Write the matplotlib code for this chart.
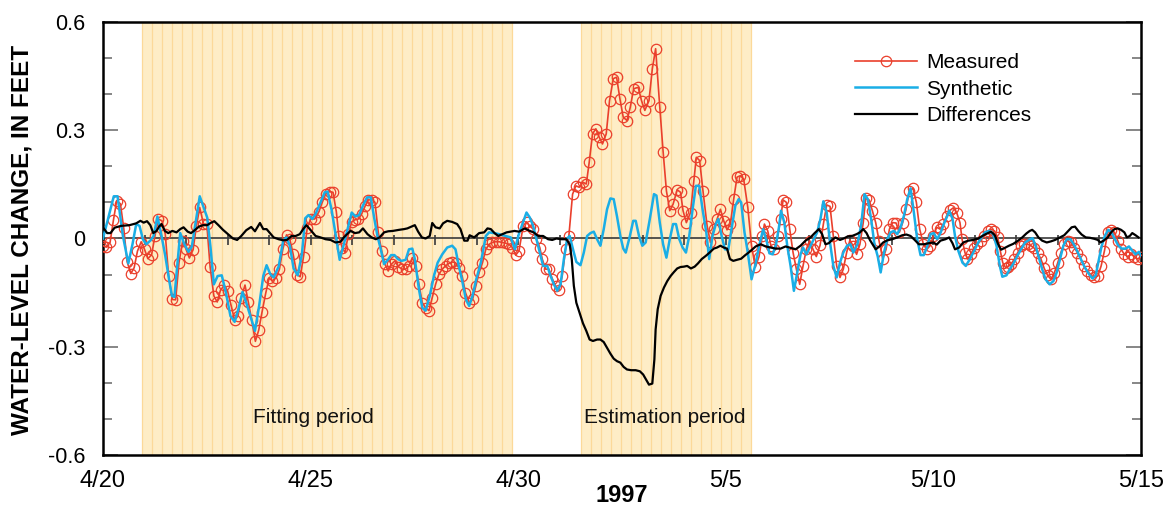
import matplotlib
matplotlib.use('Agg')
import matplotlib.pyplot as plt
import numpy as np

plt.rcParams['font.family'] = ['Liberation Sans', 'DejaVu Sans']

# ---------------- data (days after 4/20/1997, feet) ----------------
meas_t = [0.00, 0.08, 0.17, 0.25, 0.33, 0.42, 0.50, 0.58, 0.67, 0.75, 0.83, 0.92,
          1.00, 1.08, 1.17, 1.25, 1.33, 1.42, 1.50, 1.58, 1.67, 1.75, 1.83, 1.92,
          2.00, 2.08, 2.17, 2.25, 2.33, 2.42, 2.50, 2.58, 2.67, 2.75, 2.83, 2.92,
          3.00, 3.08, 3.17, 3.25, 3.33, 3.42, 3.50, 3.58, 3.67, 3.75, 3.83, 3.92,
          4.00, 4.08, 4.17, 4.25, 4.33, 4.42, 4.50, 4.58, 4.67, 4.75, 4.83, 4.92,
          5.00, 5.10, 5.20, 5.28, 5.36, 5.46, 5.54, 5.62, 5.68, 5.76, 5.83, 5.91,
          5.99, 6.07, 6.15, 6.23, 6.31, 6.39, 6.49, 6.55, 6.63, 6.71, 6.79, 6.87,
          6.95, 7.03, 7.11, 7.21, 7.29, 7.37, 7.45, 7.53, 7.61, 7.69, 7.77, 7.85,
          7.93, 8.01, 8.09, 8.17, 8.25, 8.33, 8.41, 8.49, 8.57, 8.65, 8.73, 8.82,
          8.90, 8.98, 9.06, 9.14, 9.22, 9.30, 9.38, 9.46, 9.54, 9.62, 9.70, 9.78,
          9.86, 9.94, 10.02, 10.12, 10.20, 10.28, 10.36, 10.44, 10.52, 10.58, 10.66, 10.74,
          10.82, 10.90, 10.98, 11.06, 11.14, 11.22, 11.31, 11.39, 11.47, 11.56, 11.64, 11.71,
          11.79, 11.87, 11.95, 12.03, 12.12, 12.20, 12.29, 12.37, 12.45, 12.53, 12.62, 12.70,
          12.78, 12.89, 12.97, 13.05, 13.15, 13.23, 13.31, 13.41, 13.49, 13.57, 13.65, 13.73,
          13.83, 13.91, 13.97, 14.05, 14.15, 14.23, 14.29, 14.37, 14.45, 14.55, 14.63, 14.71,
          14.79, 14.87, 14.95, 15.03, 15.11, 15.19, 15.27, 15.35, 15.43, 15.53, 15.62, 15.71,
          15.80, 15.88, 15.93, 16.01, 16.09, 16.17, 16.25, 16.32, 16.38, 16.46, 16.54, 16.62,
          16.70, 16.78, 16.86, 16.94, 17.02, 17.10, 17.18, 17.27, 17.35, 17.43, 17.51, 17.59,
          17.67, 17.75, 17.83, 17.91, 17.99, 18.07, 18.15, 18.23, 18.31, 18.37, 18.45, 18.53,
          18.61, 18.69, 18.78, 18.86, 18.94, 19.02, 19.10, 19.18, 19.26, 19.34, 19.42, 19.51,
          19.59, 19.67, 19.76, 19.84, 19.92, 20.00, 20.08, 20.16, 20.24, 20.32, 20.40, 20.48,
          20.56, 20.64, 20.69, 20.76, 20.82, 20.90, 20.98, 21.06, 21.14, 21.22, 21.31, 21.39,
          21.47, 21.55, 21.61, 21.67, 21.74, 21.80, 21.87, 21.95, 22.03, 22.11, 22.19, 22.27,
          22.35, 22.43, 22.51, 22.59, 22.67, 22.75, 22.83, 22.91, 22.99, 23.07, 23.15, 23.23,
          23.31, 23.39, 23.47, 23.55, 23.63, 23.71, 23.80, 23.88, 23.96, 24.04, 24.12, 24.20,
          24.28, 24.36, 24.44, 24.52, 24.60, 24.68, 24.76, 24.84, 24.92, 25.00]
meas_v = [-0.020, -0.024, -0.011, 0.050, 0.105, 0.096, 0.028, -0.064, -0.097, -0.081, -0.035, -0.009,
          -0.030, -0.056, -0.045, 0.006, 0.054, 0.049, 0.012, -0.103, -0.169, -0.170, -0.067, -0.006,
          -0.030, -0.054, -0.031, 0.035, 0.086, 0.040, 0.040, -0.079, -0.159, -0.176, -0.143, -0.130,
          -0.145, -0.183, -0.226, -0.215, -0.164, -0.129, -0.176, -0.225, -0.285, -0.254, -0.204, -0.151,
          -0.110, -0.117, -0.109, -0.085, -0.030, 0.010, -0.002, -0.044, -0.100, -0.106, -0.050, 0.030,
          0.054, 0.054, 0.074, 0.100, 0.123, 0.130, 0.128, 0.074, 0.007, -0.025, -0.039, 0.012,
          0.046, 0.052, 0.054, 0.068, 0.089, 0.107, 0.107, 0.100, 0.017, -0.034, -0.071, -0.090,
          -0.071, -0.062, -0.078, -0.085, -0.085, -0.076, -0.053, -0.076, -0.127, -0.178, -0.192, -0.200,
          -0.164, -0.127, -0.099, -0.085, -0.076, -0.069, -0.065, -0.067, -0.081, -0.104, -0.150, -0.178,
          -0.169, -0.131, -0.094, -0.067, -0.030, -0.016, -0.011, -0.009, -0.009, -0.011, -0.013, -0.016,
          -0.025, -0.046, -0.034, 0.035, 0.046, 0.035, 0.026, -0.002, -0.025, -0.057, -0.085, -0.085,
          -0.111, -0.131, -0.143, -0.104, -0.030, 0.007, 0.123, 0.146, 0.142, 0.156, 0.151, 0.211,
          0.290, 0.304, 0.281, 0.262, 0.290, 0.382, 0.443, 0.447, 0.387, 0.336, 0.327, 0.364,
          0.415, 0.419, 0.382, 0.355, 0.382, 0.470, 0.526, 0.364, 0.241, 0.132, 0.077, 0.095,
          0.135, 0.128, 0.077, 0.044, 0.072, 0.160, 0.225, 0.216, 0.132, 0.035, -0.011, 0.026,
          0.054, 0.081, 0.049, 0.024, 0.040, 0.109, 0.170, 0.174, 0.165, 0.086, -0.020, -0.080,
          -0.050, 0.007, 0.040, 0.021, -0.022, -0.028, 0.007, 0.054, 0.107, 0.100, 0.026, -0.039,
          -0.085, -0.127, -0.076, -0.030, -0.006, -0.030, -0.050, -0.019, 0.040, 0.093, 0.089, 0.007,
          -0.076, -0.108, -0.085, -0.039, -0.004, -0.022, -0.044, -0.016, 0.044, 0.111, 0.107, 0.077,
          0.044, -0.006, -0.057, -0.030, 0.026, 0.044, 0.043, 0.017, 0.044, 0.081, 0.132, 0.139,
          0.100, 0.026, -0.016, -0.030, -0.020, 0.007, 0.031, 0.026, 0.040, 0.063, 0.078, 0.085,
          0.072, 0.044, -0.002, -0.039, -0.057, -0.044, -0.025, -0.016, -0.006, 0.007, 0.021, 0.026,
          0.021, 0.003, -0.034, -0.067, -0.081, -0.078, -0.071, -0.057, -0.039, -0.022, -0.016, -0.016,
          -0.020, -0.027, -0.039, -0.057, -0.083, -0.102, -0.113, -0.096, -0.069, -0.039, -0.016, -0.006,
          -0.011, -0.025, -0.039, -0.057, -0.076, -0.090, -0.102, -0.108, -0.104, -0.076, -0.034, 0.017,
          0.024, 0.017, -0.006, -0.030, -0.044, -0.050, -0.044, -0.050, -0.057, -0.050]

syn_t = [0.00, 0.26, 0.35, 0.48, 0.61, 0.71, 0.80, 0.88, 0.96, 1.04, 1.14, 1.22, 1.31, 1.41,
         1.50, 1.59, 1.66, 1.72, 1.78, 1.86, 1.96, 2.06, 2.14, 2.23, 2.33, 2.41, 2.51, 2.59,
         2.67, 2.76, 2.86, 2.96, 3.07, 3.17, 3.26, 3.36, 3.45, 3.55, 3.66, 3.76, 3.86, 3.94,
         4.03, 4.11, 4.23, 4.34, 4.42, 4.50, 4.59, 4.69, 4.79, 4.87, 4.95, 5.04, 5.12, 5.24,
         5.34, 5.41, 5.51, 5.60, 5.70, 5.80, 5.91, 5.99, 6.08, 6.17, 6.26, 6.36, 6.45, 6.53,
         6.61, 6.69, 6.77, 6.86, 6.94, 7.02, 7.10, 7.19, 7.29, 7.37, 7.45, 7.51, 7.61, 7.69,
         7.77, 7.87, 7.97, 8.06, 8.17, 8.29, 8.41, 8.49, 8.57, 8.66, 8.74, 8.82, 8.90, 8.99,
         9.10, 9.22, 9.30, 9.42, 9.54, 9.70, 9.82, 9.92, 10.01, 10.12, 10.20, 10.28, 10.36, 10.44,
         10.52, 10.60, 10.70, 10.78, 10.86, 10.94, 11.02, 11.10, 11.18, 11.24, 11.32, 11.40, 11.50, 11.58,
         11.66, 11.74, 11.82, 11.90, 11.98, 12.06, 12.14, 12.22, 12.30, 12.38, 12.46, 12.53, 12.59, 12.69,
         12.77, 12.83, 12.91, 12.99, 13.07, 13.17, 13.27, 13.33, 13.41, 13.49, 13.57, 13.65, 13.73, 13.80,
         13.88, 13.96, 14.04, 14.12, 14.20, 14.28, 14.36, 14.44, 14.53, 14.60, 14.68, 14.76, 14.82, 14.90,
         14.98, 15.06, 15.15, 15.23, 15.31, 15.37, 15.45, 15.53, 15.62, 15.72, 15.80, 15.90, 15.98, 16.05,
         16.13, 16.21, 16.28, 16.33, 16.41, 16.48, 16.56, 16.64, 16.72, 16.80, 16.86, 16.94, 17.02, 17.12,
         17.20, 17.28, 17.35, 17.43, 17.51, 17.59, 17.67, 17.75, 17.83, 17.92, 18.00, 18.07, 18.17, 18.26,
         18.34, 18.42, 18.50, 18.58, 18.66, 18.73, 18.81, 18.89, 18.97, 19.05, 19.13, 19.21, 19.29, 19.37,
         19.45, 19.53, 19.61, 19.69, 19.77, 19.85, 19.93, 20.01, 20.09, 20.17, 20.25, 20.33, 20.38, 20.46,
         20.52, 20.60, 20.70, 20.78, 20.88, 21.00, 21.08, 21.16, 21.24, 21.34, 21.44, 21.52, 21.60, 21.66,
         21.76, 21.84, 21.92, 22.00, 22.11, 22.21, 22.33, 22.39, 22.46, 22.54, 22.62, 22.70, 22.80, 22.89,
         22.97, 23.05, 23.13, 23.21, 23.30, 23.38, 23.46, 23.55, 23.65, 23.75, 23.83, 23.91, 23.97, 24.05,
         24.13, 24.21, 24.29, 24.37, 24.45, 24.53, 24.63, 24.71, 24.79, 24.87, 24.95, 25.00]
syn_v = [0.000, 0.117, 0.117, 0.007, -0.069, -0.016, 0.040, 0.035, -0.002, -0.016, -0.006, 0.007, 0.061, 0.007,
         -0.048, -0.113, -0.159, -0.162, -0.085, 0.015, -0.016, -0.037, -0.022, 0.044, 0.117, 0.091, 0.058, -0.025,
         -0.127, -0.104, -0.102, -0.150, -0.215, -0.231, -0.196, -0.148, -0.178, -0.215, -0.256, -0.187, -0.104, -0.074,
         -0.099, -0.108, -0.078, -0.006, 0.003, -0.020, -0.083, -0.102, -0.044, 0.056, 0.065, 0.054, 0.068, 0.100,
         0.128, 0.130, 0.077, 0.012, -0.059, -0.016, 0.035, 0.072, 0.061, 0.065, 0.091, 0.114, 0.114, 0.058,
         0.007, -0.030, -0.071, -0.059, -0.046, -0.046, -0.057, -0.062, -0.059, -0.030, -0.028, -0.057, -0.141, -0.192,
         -0.200, -0.159, -0.104, -0.067, -0.044, -0.025, -0.020, -0.030, -0.076, -0.122, -0.169, -0.187, -0.159, -0.113,
         -0.067, 0.007, 0.017, 0.015, 0.012, 0.007, 0.003, -0.030, 0.010, 0.046, 0.072, 0.058, 0.035, -0.002,
         -0.039, -0.076, -0.076, -0.104, -0.127, -0.145, -0.127, -0.057, 0.000, 0.007, -0.030, -0.065, -0.074, -0.039,
         0.007, 0.015, 0.019, -0.002, -0.020, 0.026, 0.081, 0.111, 0.109, 0.061, 0.007, -0.028, -0.039, 0.007,
         0.049, 0.049, 0.007, -0.020, -0.011, 0.054, 0.123, 0.119, 0.044, -0.016, -0.053, -0.002, 0.040, 0.040,
         -0.002, -0.025, -0.039, 0.007, 0.081, 0.146, 0.146, 0.081, 0.017, -0.057, 0.007, 0.040, 0.054, 0.007,
         -0.030, -0.031, 0.035, 0.091, 0.109, 0.100, 0.017, -0.039, -0.113, -0.069, -0.022, 0.026, -0.006, -0.041,
         -0.044, -0.016, 0.031, 0.077, 0.044, -0.020, -0.076, -0.145, -0.094, -0.044, -0.025, -0.044, -0.025, -0.002,
         0.017, 0.054, 0.103, 0.072, -0.011, -0.076, -0.108, -0.067, -0.039, -0.020, -0.016, -0.039, -0.016, 0.037,
         0.123, 0.109, 0.054, -0.016, -0.050, -0.094, -0.039, -0.002, 0.017, 0.021, 0.012, 0.031, 0.063, 0.109,
         0.139, 0.072, -0.002, -0.046, -0.046, -0.022, 0.012, 0.015, -0.002, 0.015, 0.040, 0.061, 0.077, 0.055,
         0.007, -0.034, -0.067, -0.076, -0.057, -0.030, -0.011, 0.003, 0.017, 0.021, 0.012, -0.020, -0.076, -0.106,
         -0.102, -0.085, -0.071, -0.053, -0.030, -0.011, -0.002, 0.001, -0.020, -0.053, -0.085, -0.113, -0.127, -0.118,
         -0.094, -0.057, -0.020, -0.002, -0.002, -0.016, -0.034, -0.057, -0.081, -0.099, -0.111, -0.102, -0.067, -0.022,
         0.007, 0.024, 0.017, -0.002, -0.019, -0.028, -0.028, -0.022, -0.034, -0.044, -0.037, -0.048]

diff_t = [0.00, 0.10, 0.18, 0.28, 0.44, 0.64, 0.80, 0.90, 0.98, 1.06, 1.14, 1.21, 1.29, 1.35, 1.41,
          1.49, 1.57, 1.67, 1.77, 1.86, 1.94, 2.04, 2.12, 2.22, 2.31, 2.41, 2.51, 2.59, 2.68, 2.78,
          2.89, 3.01, 3.13, 3.23, 3.33, 3.45, 3.57, 3.66, 3.78, 3.86, 3.94, 4.02, 4.11, 4.23, 4.34,
          4.43, 4.54, 4.64, 4.74, 4.82, 4.90, 4.98, 5.12, 5.24, 5.36, 5.48, 5.60, 5.72, 5.80, 5.88,
          5.96, 6.07, 6.17, 6.26, 6.37, 6.47, 6.57, 6.66, 6.77, 6.87, 6.98, 7.13, 7.25, 7.33, 7.43,
          7.51, 7.59, 7.68, 7.77, 7.87, 7.93, 8.01, 8.11, 8.19, 8.29, 8.41, 8.53, 8.61, 8.70, 8.78,
          8.83, 8.94, 9.06, 9.18, 9.26, 9.34, 9.43, 9.52, 9.62, 9.72, 9.81, 9.91, 10.02, 10.16, 10.26,
          10.37, 10.48, 10.60, 10.72, 10.82, 10.92, 11.04, 11.16, 11.24, 11.29, 11.34, 11.40, 11.48, 11.56,
          11.64, 11.72, 11.80, 11.90, 11.98, 12.06, 12.14, 12.22, 12.30, 12.38, 12.46, 12.54, 12.62, 12.72,
          12.83, 12.93, 13.01, 13.09, 13.15, 13.23, 13.28, 13.31, 13.36, 13.43, 13.51, 13.59, 13.67, 13.75,
          13.83, 13.91, 13.99, 14.07, 14.16, 14.25, 14.33, 14.42, 14.52, 14.61, 14.71, 14.79, 14.87, 14.95,
          15.03, 15.10, 15.18, 15.27, 15.37, 15.47, 15.55, 15.63, 15.72, 15.84, 15.96, 16.08, 16.20, 16.32,
          16.44, 16.56, 16.68, 16.80, 16.92, 17.04, 17.14, 17.24, 17.32, 17.40, 17.48, 17.56, 17.64, 17.75,
          17.84, 17.94, 18.04, 18.15, 18.23, 18.31, 18.39, 18.47, 18.55, 18.61, 18.70, 18.79, 18.89, 19.01,
          19.13, 19.25, 19.35, 19.45, 19.55, 19.65, 19.77, 19.89, 20.00, 20.08, 20.17, 20.29, 20.38, 20.46,
          20.52, 20.62, 20.72, 20.84, 20.96, 21.08, 21.18, 21.26, 21.39, 21.48, 21.56, 21.63, 21.72, 21.82,
          21.92, 22.04, 22.14, 22.24, 22.32, 22.38, 22.45, 22.53, 22.62, 22.73, 22.83, 22.93, 23.05, 23.15,
          23.25, 23.33, 23.41, 23.49, 23.57, 23.67, 23.77, 23.88, 23.96, 24.02, 24.10, 24.20, 24.28, 24.36,
          24.44, 24.52, 24.60, 24.66, 24.73, 24.79, 24.87, 24.94]
diff_v = [0.031, 0.015, 0.015, 0.030, 0.035, 0.037, 0.042, 0.049, 0.044, 0.048, 0.037, 0.015, 0.021, 0.033, 0.040,
          0.021, 0.015, 0.021, 0.017, 0.026, 0.031, 0.019, 0.015, 0.024, 0.033, 0.037, 0.037, 0.043, 0.048, 0.037,
          0.024, 0.012, 0.000, -0.004, 0.007, 0.023, 0.032, 0.020, 0.043, 0.026, 0.026, 0.015, 0.003, -0.002, -0.005,
          -0.004, 0.007, 0.007, 0.012, 0.026, 0.037, 0.026, 0.007, 0.003, -0.002, -0.004, -0.011, -0.009, 0.003, 0.012,
          0.021, 0.015, 0.017, 0.028, 0.012, 0.003, -0.002, 0.003, 0.017, 0.020, 0.021, 0.024, 0.026, 0.028, 0.033,
          0.037, 0.019, 0.003, 0.000, 0.007, 0.043, 0.031, 0.028, 0.042, 0.049, 0.046, 0.040, 0.026, -0.006, -0.006,
          0.009, 0.003, 0.015, 0.017, 0.028, 0.026, 0.015, 0.007, 0.012, 0.017, 0.019, 0.021, 0.019, 0.028, 0.022,
          0.017, 0.007, 0.007, -0.002, -0.004, 0.000, -0.002, -0.002, -0.016, -0.057, -0.131, -0.178, -0.207, -0.235,
          -0.256, -0.280, -0.284, -0.280, -0.280, -0.287, -0.303, -0.319, -0.333, -0.340, -0.344, -0.356, -0.363, -0.365,
          -0.365, -0.368, -0.377, -0.393, -0.405, -0.402, -0.335, -0.252, -0.196, -0.159, -0.136, -0.118, -0.104, -0.093,
          -0.083, -0.079, -0.078, -0.076, -0.083, -0.078, -0.069, -0.057, -0.048, -0.039, -0.028, -0.025, -0.020, -0.025,
          -0.028, -0.057, -0.062, -0.059, -0.056, -0.046, -0.039, -0.031, -0.022, -0.016, -0.022, -0.025, -0.028, -0.028,
          -0.022, -0.026, -0.030, -0.020, -0.006, 0.003, 0.015, 0.026, 0.012, -0.016, -0.013, -0.004, 0.003, -0.004,
          0.000, 0.006, 0.007, 0.012, 0.017, 0.026, 0.015, -0.004, -0.019, -0.030, -0.022, -0.011, -0.005, -0.002,
          0.003, 0.009, 0.011, 0.007, -0.004, -0.016, -0.016, -0.013, -0.011, -0.017, -0.006, -0.002, 0.003, -0.013,
          -0.030, -0.025, -0.011, -0.006, -0.004, 0.000, 0.007, 0.012, 0.019, 0.009, -0.016, -0.031, -0.026, -0.020,
          -0.015, -0.006, 0.003, 0.014, 0.021, 0.024, 0.017, 0.003, -0.006, -0.011, -0.008, -0.004, 0.003, 0.009,
          0.021, 0.031, 0.033, 0.021, 0.011, 0.003, 0.002, -0.001, -0.004, -0.011, -0.006, 0.003, 0.017, 0.026,
          0.028, 0.024, 0.017, 0.003, 0.007, 0.015, 0.009, 0.003]

periods = [(0.93, 9.86), (11.52, 15.63)]
period_labels = ['Fitting period', 'Estimation period']
date_ticks = [0, 5, 10, 15, 20, 25]
date_labels = ['4/20', '4/25', '4/30', '5/5', '5/10', '5/15']
y_ticks = [-0.6, -0.3, 0.0, 0.3, 0.6]
y_labels = ['-0.6', '-0.3', '0', '0.3', '0.6']

# ---------------- figure ----------------
W, H = 1167, 508
fig = plt.figure(figsize=(W / 100, H / 100), dpi=100)
L, R, T, B = 103, 1141, 22, 455
ax = fig.add_axes([L / W, 1 - B / H, (R - L) / W, (B - T) / H])
ax.set_xlim(0, 25)
ax.set_ylim(-0.6, 0.6)

stripe_step = 0.241
for a, b in periods:
    ax.axvspan(a, b, facecolor='#FEEDC6', edgecolor='none', zorder=0)
    for s in np.arange(a, b, stripe_step):
        ax.axvline(s, color='#FCD999', lw=0.9, zorder=0.5)

ax.axhline(0, color='#3a3a3a', lw=1.2, zorder=1)
ax.vlines(np.arange(1, 25), -0.017, 0.011, color='#3a3a3a', lw=1.2, zorder=1)

ax.plot(meas_t, meas_v, color='#EA3F2C', lw=1.2, marker='o', ms=7.5, mfc='none',
        mec='#EA3F2C', mew=0.9, label='Measured', zorder=3)
ax.plot(syn_t, syn_v, color='#1AAEE6', lw=1.8, label='Synthetic', zorder=4)
ax.plot(diff_t, diff_v, color='black', lw=1.6, label='Differences', zorder=5)

for (a, b), lab, cx in zip(periods, period_labels, [5.06, 13.54]):
    ax.text(cx, -0.495, lab, ha='center', va='center', fontsize=15, color='#111111', zorder=6)

leg = ax.legend(loc='upper left', bbox_to_anchor=(0.716, 0.948), frameon=False, fontsize=15,
                handlelength=3.0, handletextpad=0.45, labelspacing=0.37, borderaxespad=0.0)

ax.set_yticks(y_ticks)
ax.set_yticklabels(y_labels)
ax.set_yticks(np.arange(-0.6, 0.61, 0.1), minor=True)
ax.tick_params(axis='y', which='both', direction='in', left=True, right=True,
               color='#666666', width=1.1, labelsize=15.5, pad=13)
ax.tick_params(axis='y', which='major', length=10.8)
ax.tick_params(axis='y', which='minor', length=6.5)
ax.set_xticks(date_ticks)
ax.set_xticklabels(date_labels)
ax.tick_params(axis='x', which='both', length=0, labelsize=17, pad=11)

for sp in ax.spines.values():
    sp.set_linewidth(1.8)
    sp.set_color('black')

fig.text(22 / W, 1 - 240 / H, 'WATER-LEVEL CHANGE, IN FEET', rotation=90, ha='center',
         va='center', fontsize=17.5, fontweight='bold')
fig.text(622 / W, 1 - 495 / H, '1997', ha='center', va='center', fontsize=17, fontweight='bold')

fig.savefig('out.png', dpi=100)
